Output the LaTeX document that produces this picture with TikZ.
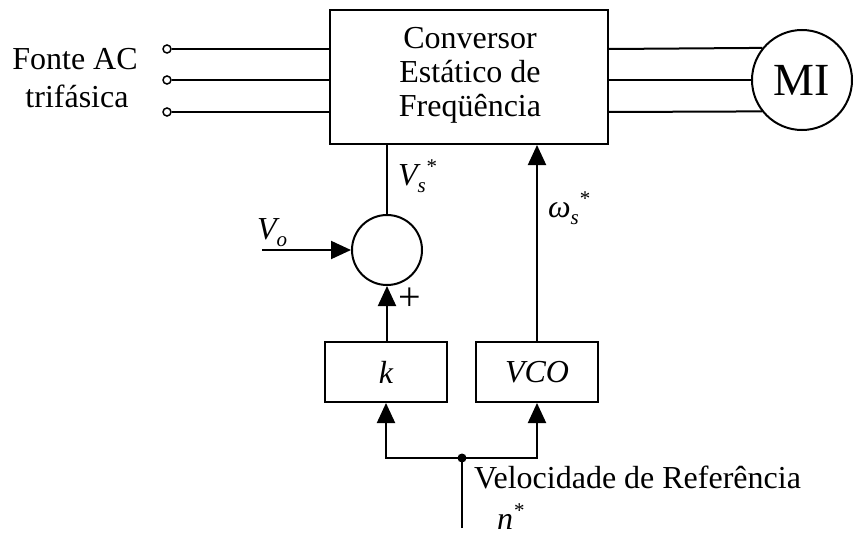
\documentclass[tikz,border=0pt]{standalone}
\usepackage{fontspec}
\setmainfont{Liberation Serif}
\usetikzlibrary{arrows.meta}
\newcommand{\mysub}[1]{\raisebox{-7pt}{\fontsize{21}{21}\selectfont\itshape #1}}
\newcommand{\mystar}{\raisebox{12pt}{\fontsize{21}{21}\selectfont *}}
\begin{document}
\begin{tikzpicture}[x=1pt,y=-1pt, line width=2pt,
  txt/.style={font=\fontsize{32}{34}\selectfont, inner sep=0pt},
  blk/.style={draw, minimum width=122pt, minimum height=60pt, inner sep=0pt, font=\fontsize{32}{34}\selectfont\itshape},
  arr/.style={-{Triangle[length=20pt,width=18pt]}},
  term/.style={circle, draw, line width=1.5pt, minimum size=8pt, inner sep=0pt, fill=white}]
\useasboundingbox (0,0) rectangle (857,535);
% main converter
\node[draw, minimum width=278pt, minimum height=134pt, inner sep=0pt] (conv) at (469,77) {};
\node[txt, anchor=base] (c1) at (470,49) {Conversor};
\node[txt, anchor=base] (c2) at (470,83) {Estático de};
\node[txt, anchor=base] (c3) at (470,116) {Freqüência};
% source
\node[txt, anchor=base] (src1) at (75,70) {Fonte AC};
\node[txt, anchor=base] (src2) at (77,107) {trifásica};
\node[term] (t1) at (167,49) {};
\node[term] (t2) at (167,80) {};
\node[term] (t3) at (167,112) {};
\draw (t1) -- (conv.west |- t1);
\draw (t2) -- (conv.west |- t2);
\draw (t3) -- (conv.west |- t3);
% motor
\node[circle, draw, minimum size=100pt, inner sep=0pt, font=\fontsize{46}{46}\selectfont] (mi) at (802,80) {MI};
\draw (conv.east |- t1) -- (mi.141.7);
\draw (conv.east |- t2) -- (mi.west);
\draw (conv.east |- t3) -- (mi.218.3);
% summing junction
\node[circle, draw, minimum size=70pt, inner sep=0pt] (sum) at (387,250) {};
\draw (conv.south -| sum) -- (sum.north);
\node[txt, anchor=base west] (vs) at (397,185) {\itshape V\mysub{s}\mystar};
\coordinate (vo) at (262,250);
\draw[arr] (vo) -- (sum.west);
\node[txt, anchor=base west] (vol) at (256,239) {\itshape V\mysub{o}};
\node[inner sep=0pt, font=\fontsize{40}{40}\selectfont] (plus) at (410,299) {+};
% blocks
\node[blk] (k) at (386,372) {k};
\node[blk] (vco) at (537,372) {VCO};
\draw[arr] (k.north -| sum) -- (sum.south);
\draw[arr] (vco.north) -- (vco.north |- conv.south);
\node[txt, anchor=base west] (ws) at (547,217) {\itshape ω\mysub{s}\mystar};
% reference
\node[circle, fill, inner sep=0pt, minimum size=9pt] (j) at (462,458) {};
\draw[arr] (j.center) -| (k.south);
\draw[arr] (j.center) -| (vco.south);
\coordinate (nin) at (462,528);
\draw (nin) -- (j.center);
\node[txt, anchor=base west] (vel) at (473,488) {Velocidade de Referência};
\node[txt, anchor=base west] (n) at (496,529) {\itshape n\mystar};
\end{tikzpicture}
\end{document}
